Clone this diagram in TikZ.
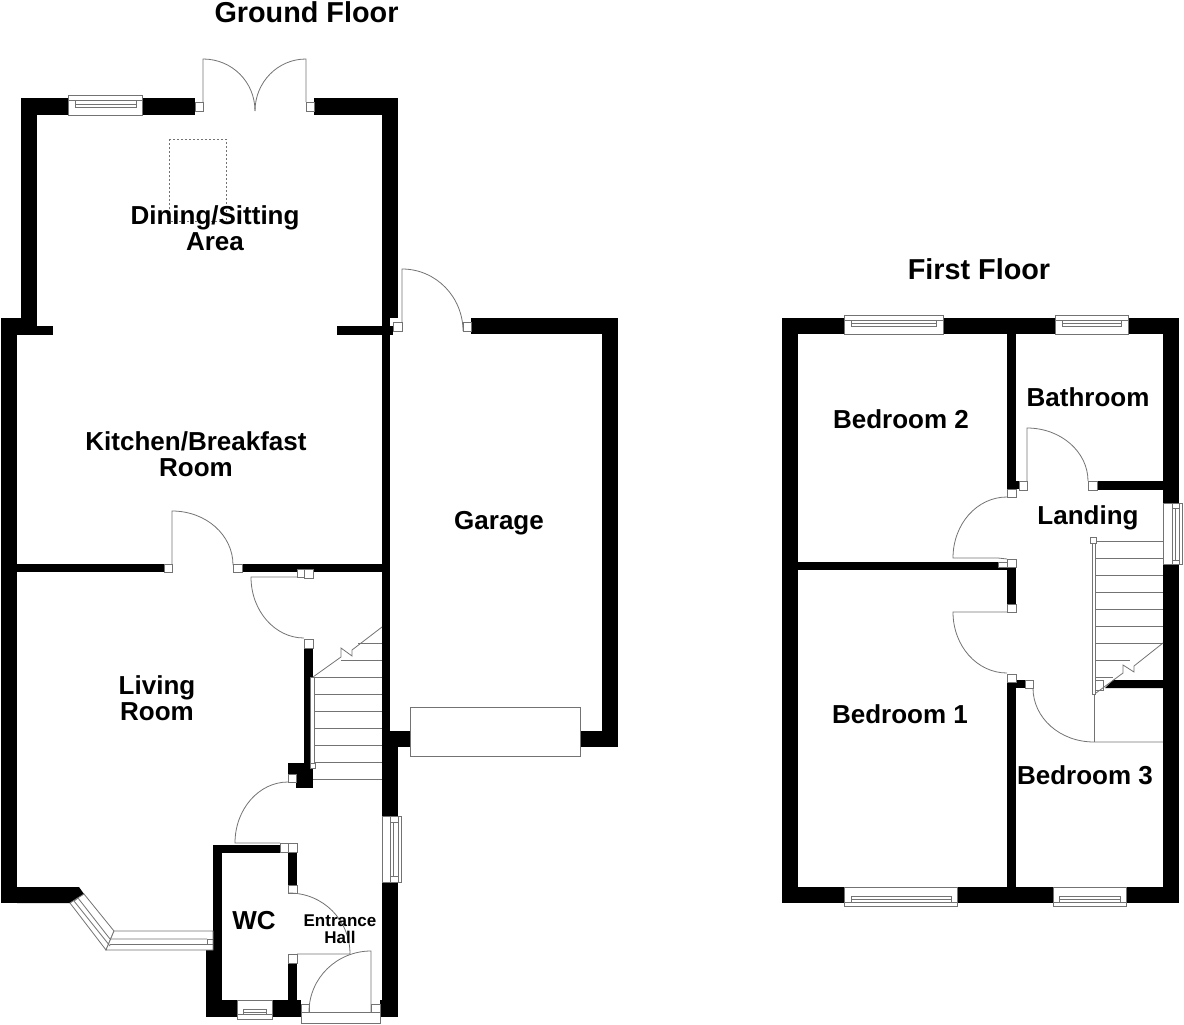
\documentclass[tikz,border=0pt]{standalone}
\usepackage{fontspec}
\setmainfont{Liberation Sans}

\tikzset{
	parede/.style={fill=black},
	linha/.style={draw=black!55, line width=0.8pt},
	batente/.style={draw=black!55, line width=0.8pt, fill=white},
	nomeSala/.style={font=\bfseries\fontsize{26}{26}\selectfont, align=center, text=black},
	titulo/.style={font=\bfseries\fontsize{28.8}{29}\selectfont, text=black},
	nomePequeno/.style={font=\bfseries\fontsize{17}{17}\selectfont, align=center, text=black}
}

\begin{document}
\begin{tikzpicture}[x=1pt, y=-1pt] %Coordenadas em pixels da imagem
	\useasboundingbox (0,0) rectangle (1184,1025); %Margens
		%Paredes do andar de baixo
	\fill[parede] (21,98) rectangle (195,115); %Parede de cima, esquerda
	\fill[parede] (314,98) rectangle (398,115); %Parede de cima, direita
	\fill[parede] (21,98) rectangle (37,326); %Parede esquerda da sala de jantar
	\fill[parede] (382,98) rectangle (398,318); %Parede direita da sala de jantar
	\fill[parede] (1,318) rectangle (21,335); %Degrau externo
	\fill[parede] (1,318) rectangle (17,903); %Parede esquerda
	\fill[parede] (17,326) rectangle (53,335); %Ressalto esquerdo
	\fill[parede] (337,326) rectangle (393,335); %Ressalto direito
	\fill[parede] (382,318) rectangle (390,747); %Parede entre casa e garagem
	\fill[parede] (382,731) rectangle (410,747); %Parede frontal da garagem, esquerda
	\fill[parede] (382,747) rectangle (398,1017); %Parede direita do hall
	\fill[parede] (17,564) rectangle (164,572); %Cozinha e sala de estar, esquerda
	\fill[parede] (242,564) rectangle (382,572); %Cozinha e sala de estar, direita
	\fill[parede] (304,648) rectangle (313,763); %Parede da escada
	\fill[parede] (288,763) rectangle (313,774); %Pilar
	\fill[parede] (296,774) rectangle (313,788); %Pilar, parte de baixo
	\fill[parede] (17,887) -- (79,887) -- (84,894) -- (70,903) -- (17,903) -- cycle; %Canto da janela curva
		%Lavabo
	\fill[parede] (213,845) rectangle (280,853); %Parede de cima
	\fill[parede] (213,845) rectangle (222,950); %Parede esquerda
	\fill[parede] (206,950) rectangle (222,1017); %Parede esquerda, parte de baixo
	\fill[parede] (206,1000) rectangle (301,1017); %Parede de baixo
	\fill[parede] (288,852) rectangle (297,885); %Parede direita, parte de cima
	\fill[parede] (288,963) rectangle (297,1000); %Parede direita, parte de baixo
	\fill[parede] (380,1000) rectangle (398,1017); %Canto da porta de entrada
		%Garagem
	\fill[parede] (471,318) rectangle (618,334); %Parede de cima
	\fill[parede] (602,318) rectangle (618,747); %Parede direita
	\fill[parede] (580,731) rectangle (618,747); %Parede frontal, direita
	\draw[batente] (410,707) rectangle (580,756); %Porta da garagem
		%Paredes do andar de cima
	\fill[parede] (782,318) rectangle (1179,334); %Parede de cima
	\fill[parede] (782,887) rectangle (1179,903); %Parede de baixo
	\fill[parede] (782,318) rectangle (798,903); %Parede esquerda
	\fill[parede] (1163,318) rectangle (1179,903); %Parede direita
	\fill[parede] (1007,334) rectangle (1016,489); %Quarto 2 e banheiro
	\fill[parede] (1016,481) rectangle (1019,489); %Ressalto do banheiro
	\fill[parede] (1097,481) rectangle (1163,490); %Banheiro e corredor
	\fill[parede] (798,562) rectangle (998,570); %Quarto 2 e quarto 1
	\fill[parede] (998,567) rectangle (1016,570); %Canto
	\fill[parede] (1007,567) rectangle (1016,604); %Quarto 1 e corredor
	\fill[parede] (1007,682) rectangle (1016,887); %Quarto 1 e quarto 3
	\fill[parede] (1016,680) rectangle (1025,688); %Ressalto do quarto 3
	\fill[parede] (1105,688) -- (1113,680) -- (1163,680) -- (1163,688) -- cycle; %Quarto 3 e escada
		%Batentes
	\draw[batente] (195,102) rectangle (203,111);
	\draw[batente] (306,102) rectangle (314,111);
	\draw[batente] (393,322) rectangle (402,331);
	\draw[batente] (463,322) rectangle (471,331);
	\draw[batente] (164,564) rectangle (172,572);
	\draw[batente] (233,564) rectangle (242,572);
	\draw[batente] (297,569) rectangle (304,577);
	\draw[batente] (304,569) rectangle (313,578);
	\draw[batente] (304,639) rectangle (313,648);
	\draw[batente] (288,774) rectangle (296,782);
	\draw[batente] (280,843) rectangle (288,852);
	\draw[batente] (288,843) rectangle (297,852);
	\draw[batente] (288,885) rectangle (297,893);
	\draw[batente] (288,954) rectangle (297,963);
	\draw[batente] (1019,481) rectangle (1027,490);
	\draw[batente] (1088,481) rectangle (1097,490);
	\draw[batente] (1007,489) rectangle (1016,497);
	\draw[batente] (998,562) rectangle (1007,567);
	\draw[batente] (1007,559) rectangle (1016,567);
	\draw[batente] (1007,604) rectangle (1016,612);
	\draw[batente] (1007,674) rectangle (1016,682);
	\draw[batente] (1025,680) rectangle (1033,688);
	\draw[batente] (1094,680) rectangle (1103,690);
		%Portas
	\draw[linha] (203,102) -- (203,59) .. controls (232,59) and (255,82) .. (255,111); %Porta dupla, esquerda
	\draw[linha] (306,102) -- (306,59) .. controls (278,59) and (255,82) .. (255,111); %Porta dupla, direita
	\draw[linha] (402,322) -- (402,269) .. controls (436,269) and (463,297) .. (463,331); %Porta lateral
	\draw[linha] (172,564) -- (172,511) .. controls (206,511) and (233,535) .. (233,565); %Porta da cozinha
	\draw[linha] (297,577) -- (251,577) .. controls (251,611) and (275,638) .. (304,638); %Porta da sala de estar
	\draw[linha] (280,843) -- (235,843) .. controls (235,809) and (259,782) .. (288,782); %Porta do hall
	\draw[linha] (289,893) .. controls (323,893) and (350,920) .. (350,954) -- (297,954); %Porta do lavabo
		%Escada de baixo
	\draw[batente] (310,677) rectangle (314,763); %Corrimao
	\draw[batente] (310,763) rectangle (315,768);
	\draw[linha] (314,677) -- (382,677) (314,694) -- (382,694) (314,711) -- (382,711) (314,728) -- (382,728); %Degraus
	\draw[linha] (314,745) -- (382,745) (315,762) -- (382,762) (313,779) -- (382,779);
	\draw[linha] (341,660) -- (382,660) (358,643) -- (382,643);
	\draw[linha] (313,677) -- (341,657) -- (341,648) -- (352,656) -- (352,650) -- (382,627); %Linha de corte
		%Janelas do andar de baixo
	\draw[batente] (68,95) rectangle (142,115); %Janela de cima
	\draw[linha] (68,100) -- (142,100) (75,100) -- (75,107) -- (136,107) -- (136,100) (75,104) -- (136,104);
	\draw[batente] (382,816) rectangle (401,882); %Janela do hall
	\draw[linha] (390,816) -- (390,882) (390,822) -- (398,822) (390,876) -- (398,876) (393,822) -- (393,876) (398,816) -- (398,882);
	\draw[batente] (237,1000) rectangle (272,1019); %Janela do lavabo
	\draw[linha] (237,1014) -- (272,1014) (243,1009) -- (266,1009) -- (266,1014) (243,1009) -- (243,1014) (243,1012) -- (266,1012);
	\draw[batente] (301,1012) rectangle (380,1023); %Soleira
	\draw[batente] (301,1004) rectangle (309,1012);
	\draw[batente] (371,1004) rectangle (380,1012);
	\draw[linha] (371,1012) -- (371,951) .. controls (337,951) and (309,978) .. (309,1012); %Porta de entrada
		%Janela curva
	\draw[batente] (70,903) -- (84,894) -- (114,931) -- (106,950) -- cycle;
	\draw[batente] (114,931) -- (213,931) -- (213,950) -- (106,950) -- cycle;
	\draw[linha] (74,901) -- (110,946) (78,898) -- (110,939) (78,898) -- (74,901) (207,939) -- (110,939);
	\draw[linha] (110,944) -- (207,944) (207,939) -- (207,944) -- (213,944) (207,939) -- (213,939);
		%Janelas do andar de cima
	\draw[batente] (844,315) rectangle (943,334); %Quarto 2
	\draw[linha] (844,320) -- (943,320) (851,320) -- (851,326) -- (936,326) -- (936,320) (851,323) -- (936,323);
	\draw[batente] (1055,315) rectangle (1128,334); %Banheiro
	\draw[linha] (1055,320) -- (1128,320) (1062,320) -- (1062,326) -- (1121,326) -- (1121,320) (1062,323) -- (1121,323);
	\draw[batente] (1163,503) rectangle (1182,564); %Corredor
	\draw[linha] (1172,503) -- (1172,564) (1172,508) -- (1179,508) (1172,560) -- (1179,560) (1175,508) -- (1175,560) (1179,503) -- (1179,564);
	\draw[batente] (844,887) rectangle (957,906); %Quarto 1
	\draw[linha] (844,902) -- (957,902) (851,896) -- (851,902) (951,896) -- (951,902) (851,896) -- (951,896) (851,899) -- (951,899);
	\draw[batente] (1053,887) rectangle (1126,906); %Quarto 3
	\draw[linha] (1053,902) -- (1126,902) (1059,896) -- (1059,902) (1120,896) -- (1120,902) (1059,896) -- (1120,896) (1059,899) -- (1120,899);
		%Portas do andar de cima
	\draw[linha] (1027,481) -- (1027,428) .. controls (1061,428) and (1088,452) .. (1088,481); %Banheiro
	\draw[linha] (1007,497) .. controls (977,497) and (953,524) .. (953,558) -- (998,558) -- (1007,559); %Quarto 2
	\draw[linha] (1007,612) -- (953,612) .. controls (953,646) and (977,673) .. (1007,673); %Quarto 1
	\draw[linha] (1033,688) .. controls (1033,718) and (1060,742) .. (1094,742) -- (1163,742); %Quarto 3
	\draw[linha] (1094,690) -- (1094,742);
		%Escada de cima
	\draw[batente] (1092,541) rectangle (1095,694); %Corrimao
	\draw[batente] (1090,537) rectangle (1096,543);
	\draw[linha] (1096,541) -- (1163,541) (1096,558) -- (1163,558) (1096,575) -- (1163,575) (1096,592) -- (1163,592); %Degraus
	\draw[linha] (1096,609) -- (1163,609) (1096,626) -- (1163,626) (1096,643) -- (1163,643) (1096,660) -- (1130,660);
	\draw[linha] (1096,677) -- (1113,677);
	\draw[linha] (1096,693) -- (1123,673) -- (1123,665) -- (1134,672) -- (1134,666) -- (1163,643); %Linha de corte
		%Claraboia
	\draw[linha, dashed, line width=0.6pt, dash pattern=on 2pt off 2pt] (169,139) rectangle (226,221);
		%Nomes
	\node[titulo] (terreo) at (306.5,12) {Ground Floor};
	\node[titulo] (primeiro) at (979,269) {First Floor};
	\node[nomeSala] (jantar) at (215,228) {Dining/Sitting\\Area};
	\node[nomeSala] (cozinha) at (196,454) {Kitchen/Breakfast\\Room};
	\node[nomeSala] (estar) at (157,698) {Living\\Room};
	\node[nomeSala] (garagem) at (499,523) {Garage};
	\node[nomeSala] (lavabo) at (254,921) {WC};
	\node[nomePequeno] (hall) at (340,929) {Entrance\\Hall};
	\node[nomeSala] (quartoDois) at (901,419) {Bedroom 2};
	\node[nomeSala] (banheiro) at (1088,397) {Bathroom};
	\node[nomeSala] (corredor) at (1088,518) {Landing};
	\node[nomeSala] (quartoUm) at (900,714) {Bedroom 1};
	\node[nomeSala] (quartoTres) at (1085,775) {Bedroom 3};
\end{tikzpicture}
\end{document}
